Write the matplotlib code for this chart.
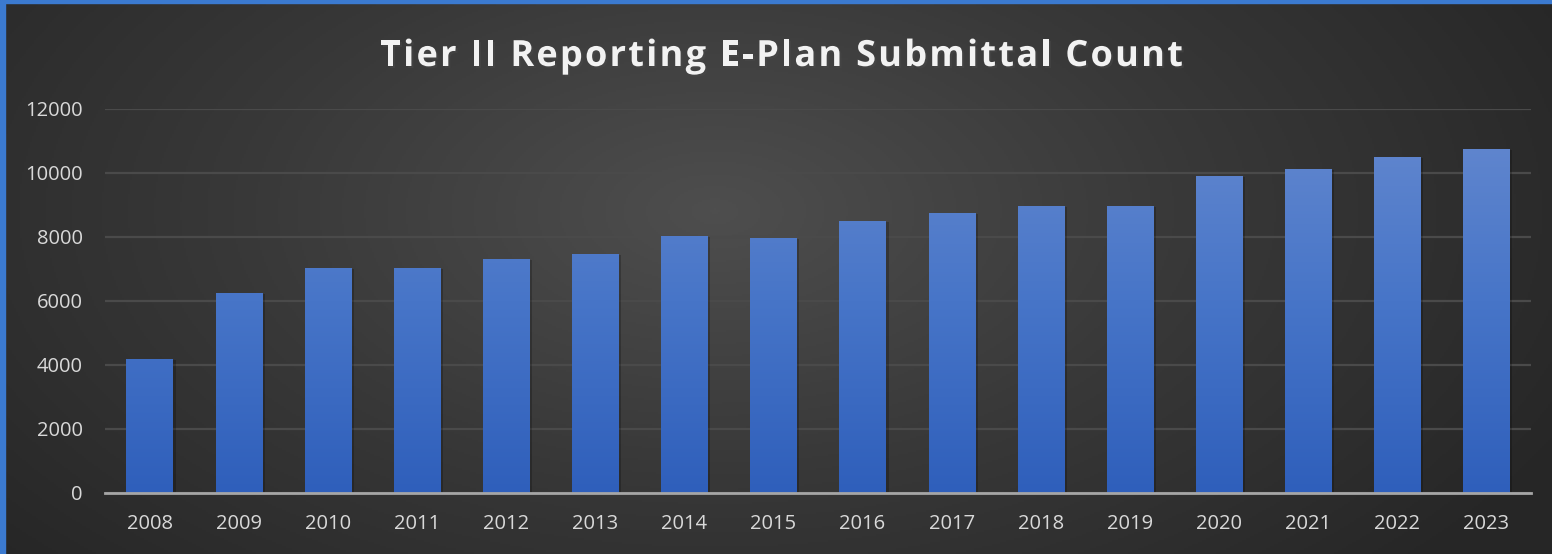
import numpy as np
import matplotlib
matplotlib.use('Agg')
import matplotlib.pyplot as plt
import matplotlib.patheffects as pe
from matplotlib.colors import LinearSegmentedColormap
from matplotlib.font_manager import FontProperties

years = ['2008', '2009', '2010', '2011', '2012', '2013', '2014', '2015',
         '2016', '2017', '2018', '2019', '2020', '2021', '2022', '2023']
counts = [4190, 6250, 7030, 7030, 7310, 7470, 8030, 7970,
          8500, 8750, 8970, 8970, 9910, 10130, 10500, 10750]
yticks = [0, 2000, 4000, 6000, 8000, 10000, 12000]

TITLE = "Tier II Reporting E-Plan Submittal Count"
TEXT_COLOR = '#d9d9d9'
W, H = 1552, 554

plt.rcParams['font.family'] = ['Open Sans', 'DejaVu Sans']

fig = plt.figure(figsize=(W / 100, H / 100), dpi=100)

# -----------------------------------------------------------------------
# Fondo: degradado radial oscuro
# -----------------------------------------------------------------------
bg = fig.add_axes([0, 0, 1, 1], zorder=-10)
h, w = 277, 776
yy, xx = np.mgrid[0:h, 0:w]
cx, cy = 0.46 * w, 0.38 * h
r = np.sqrt(((xx - cx) / (0.62 * w)) ** 2 + ((yy - cy) / (0.95 * h)) ** 2)
r = np.clip(r, 0, 1)
bg_cmap = LinearSegmentedColormap.from_list('bg', ['#4e4e4e', '#383838', '#262626'])
bg.imshow(r, cmap=bg_cmap, aspect='auto', extent=[0, 1, 0, 1], origin='upper')
bg.set_xlim(0, 1)
bg.set_ylim(0, 1)
bg.axis('off')

# borde azul (solo arriba e izquierda visibles)
fig.add_artist(plt.Rectangle((0, 1 - 3 / H), 1, 3 / H, transform=fig.transFigure,
                             color='#3b7ad0', zorder=5))
fig.add_artist(plt.Rectangle((0, 0), 5 / W, 1, transform=fig.transFigure,
                             color='#3b7ad0', zorder=5))

# -----------------------------------------------------------------------
# Ejes y barras
# -----------------------------------------------------------------------
ax = fig.add_axes([105 / W, 61 / H, 1426 / W, 384 / H])
ax.patch.set_alpha(0)

x = np.arange(len(years))
bars = ax.bar(x, counts, width=0.52, color='#3a66c0', zorder=3,
              path_effects=[pe.SimplePatchShadow(offset=(2, -1), shadow_rgbFace='black', alpha=0.22),
                            pe.Normal()])

bar_cmap = LinearSegmentedColormap.from_list('bar', ['#2f5fbb', '#4775c8', '#6589cf'])
grad = np.linspace(0, 1, 256).reshape(-1, 1)
for b in bars:
    x0 = b.get_x()
    im = ax.imshow(grad, cmap=bar_cmap, aspect='auto', origin='lower',
                   extent=[x0, x0 + b.get_width(), 0, 12000], zorder=4)
    im.set_clip_path(b)

ax.set_xlim(-0.5, len(years) - 0.5)
ax.set_ylim(0, 12000)
ax.set_yticks(yticks)
ax.set_yticklabels([str(v) for v in yticks])
ax.set_xticks(x)
ax.set_xticklabels(years)
ax.tick_params(axis='both', length=0, labelsize=14.5, colors=TEXT_COLOR)
ax.tick_params(axis='y', pad=16)
ax.tick_params(axis='x', pad=15)

ax.grid(axis='y', color='#4a4a4a', linewidth=1.6, zorder=0)
for s in ['top', 'right', 'left']:
    ax.spines[s].set_visible(False)
ax.spines['bottom'].set_color('#a6a6a6')
ax.spines['bottom'].set_linewidth(2)
ax.spines['bottom'].set_zorder(5)

# -----------------------------------------------------------------------
# Título con espaciado entre letras
# -----------------------------------------------------------------------
fp = FontProperties(family=['Open Sans', 'DejaVu Sans'], weight='bold', size=26)
fig.canvas.draw()
renderer = fig.canvas.get_renderer()
widths = []
for ch in TITLE:
    if ch == ' ':
        wd = renderer.get_text_width_height_descent('a a', fp, ismath=False)[0] - \
             renderer.get_text_width_height_descent('aa', fp, ismath=False)[0]
    else:
        wd = renderer.get_text_width_height_descent(ch, fp, ismath=False)[0]
    widths.append(wd)
x_left, x_right = 380, 1183
track = (x_right - x_left - sum(widths)) / (len(TITLE) - 1)
pos = x_left
for ch, wd in zip(TITLE, widths):
    if ch != ' ':
        fig.text(pos / W, 1 - 66 / H, ch, ha='left', va='baseline', color='#f2f2f2',
                 fontproperties=fp,
                 path_effects=[pe.withSimplePatchShadow(offset=(1.5, -1.5), alpha=0.5)])
    pos += wd + track

fig.savefig('out.png', dpi=100)
